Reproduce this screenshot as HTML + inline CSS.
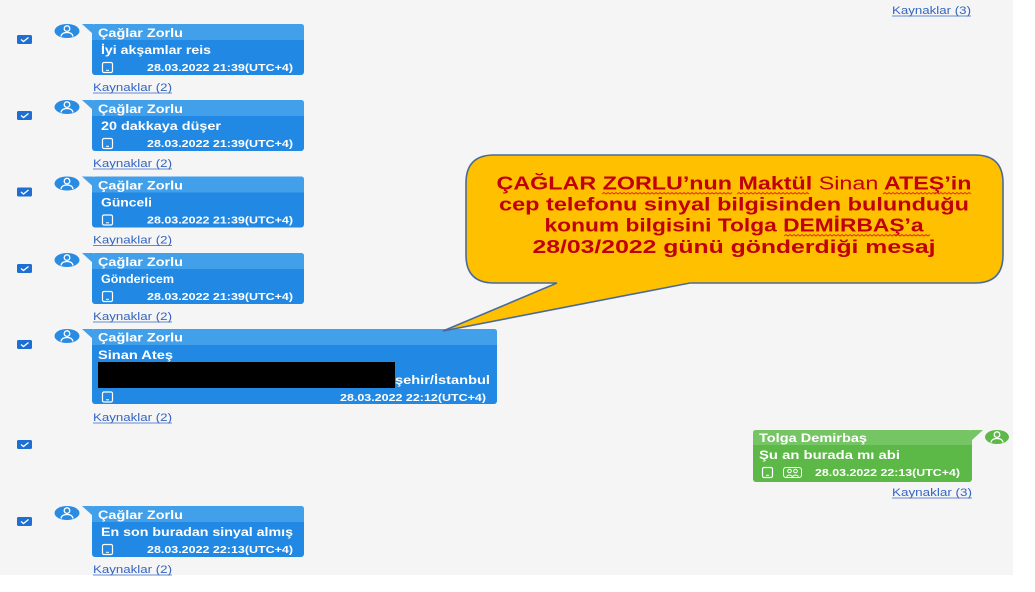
<!DOCTYPE html>
<html><head><meta charset="utf-8"><style>
html,body{margin:0;padding:0;background:#fff;}
svg{display:block;}
text{font-family:"Liberation Sans","DejaVu Sans",sans-serif;}
.w{fill:#fff;font-weight:bold;}
.h{font-size:11.5px;}
.b{font-size:12px;}
.t{font-size:10.5px;}
.k{fill:#3565c2;font-size:11px;}
.c{fill:#c0000a;font-size:18.5px;font-weight:bold;}
</style></head><body>
<svg width="1035" height="592" viewBox="0 0 1035 592" xmlns="http://www.w3.org/2000/svg">
<rect x="0" y="0" width="1035" height="592" fill="#ffffff"/>
<rect x="0" y="0" width="1013" height="575" fill="#f5f5f5"/>

<defs>
<g id="chk"><rect x="17" y="0" width="15" height="9" rx="1.5" fill="#1d6fd3"/><polyline points="21,4.5 23.5,6.5 28.5,2.5" fill="none" stroke="#fff" stroke-width="1.3"/></g>
<g id="avb"><ellipse cx="67" cy="7" rx="12.5" ry="7" fill="#2a8be2"/><circle cx="67" cy="4.6" r="2.8" fill="none" stroke="#fff" stroke-width="1.3"/><path d="M61,12.5 Q61.5,8.5 67,8.5 Q72.5,8.5 73,12.5" fill="none" stroke="#fff" stroke-width="1.3"/></g>
<g id="ph"><rect x="0.5" y="0.5" width="10" height="10" rx="1.5" fill="none" stroke="#fff" stroke-width="1.2"/><line x1="4" y1="8.3" x2="7" y2="8.3" stroke="#fff" stroke-width="1"/></g>
</defs>

<!-- top right Kaynaklar -->
<text x="892" y="14" class="k" textLength="79" lengthAdjust="spacingAndGlyphs">Kaynaklar (3)</text>
<line x1="892" y1="16" x2="971" y2="16" stroke="#3565c2" stroke-width="0.8"/>

<!-- Row 1 top 24 -->
<g transform="translate(0,24)">
<use href="#chk" y="11"/><use href="#avb"/>
<rect x="92" y="0" width="212" height="51" rx="3" fill="#2189e3"/>
<path d="M92,16 V3 Q92,0 95,0 H301 Q304,0 304,3 V16 Z" fill="#42a0ea"/>
<polygon points="82,0 93,0 93,10" fill="#42a0ea"/>
<text x="98" y="13" class="w h" textLength="85" lengthAdjust="spacingAndGlyphs">Çağlar Zorlu</text>
<text x="101" y="30" class="w b" textLength="110" lengthAdjust="spacingAndGlyphs">İyi akşamlar reis</text>
<use href="#ph" x="102" y="38"/>
<text x="147" y="47" class="w t" textLength="146" lengthAdjust="spacingAndGlyphs">28.03.2022 21:39(UTC+4)</text>
<text x="93" y="67" class="k" textLength="79" lengthAdjust="spacingAndGlyphs">Kaynaklar (2)</text>
<line x1="93" y1="69" x2="172" y2="69" stroke="#3565c2" stroke-width="0.8"/>
</g>

<!-- Row 2 top 100 -->
<g transform="translate(0,100)">
<use href="#chk" y="11"/><use href="#avb"/>
<rect x="92" y="0" width="212" height="51" rx="3" fill="#2189e3"/>
<path d="M92,16 V3 Q92,0 95,0 H301 Q304,0 304,3 V16 Z" fill="#42a0ea"/>
<polygon points="82,0 93,0 93,10" fill="#42a0ea"/>
<text x="98" y="13" class="w h" textLength="85" lengthAdjust="spacingAndGlyphs">Çağlar Zorlu</text>
<text x="101" y="30" class="w b" textLength="120" lengthAdjust="spacingAndGlyphs">20 dakkaya düşer</text>
<use href="#ph" x="102" y="38"/>
<text x="147" y="47" class="w t" textLength="146" lengthAdjust="spacingAndGlyphs">28.03.2022 21:39(UTC+4)</text>
<text x="93" y="67" class="k" textLength="79" lengthAdjust="spacingAndGlyphs">Kaynaklar (2)</text>
<line x1="93" y1="69" x2="172" y2="69" stroke="#3565c2" stroke-width="0.8"/>
</g>

<!-- Row 3 -->
<g transform="translate(0,176.5)">
<use href="#chk" y="11"/><use href="#avb"/>
<rect x="92" y="0" width="212" height="51" rx="3" fill="#2189e3"/>
<path d="M92,16 V3 Q92,0 95,0 H301 Q304,0 304,3 V16 Z" fill="#42a0ea"/>
<polygon points="82,0 93,0 93,10" fill="#42a0ea"/>
<text x="98" y="13" class="w h" textLength="85" lengthAdjust="spacingAndGlyphs">Çağlar Zorlu</text>
<text x="101" y="30" class="w b" textLength="51" lengthAdjust="spacingAndGlyphs">Günceli</text>
<use href="#ph" x="102" y="38"/>
<text x="147" y="47" class="w t" textLength="146" lengthAdjust="spacingAndGlyphs">28.03.2022 21:39(UTC+4)</text>
<text x="93" y="67" class="k" textLength="79" lengthAdjust="spacingAndGlyphs">Kaynaklar (2)</text>
<line x1="93" y1="69" x2="172" y2="69" stroke="#3565c2" stroke-width="0.8"/>
</g>

<!-- Row 4 -->
<g transform="translate(0,253)">
<use href="#chk" y="11"/><use href="#avb"/>
<rect x="92" y="0" width="212" height="51" rx="3" fill="#2189e3"/>
<path d="M92,16 V3 Q92,0 95,0 H301 Q304,0 304,3 V16 Z" fill="#42a0ea"/>
<polygon points="82,0 93,0 93,10" fill="#42a0ea"/>
<text x="98" y="13" class="w h" textLength="85" lengthAdjust="spacingAndGlyphs">Çağlar Zorlu</text>
<text x="101" y="30" class="w b" textLength="73" lengthAdjust="spacingAndGlyphs">Göndericem</text>
<use href="#ph" x="102" y="38"/>
<text x="147" y="47" class="w t" textLength="146" lengthAdjust="spacingAndGlyphs">28.03.2022 21:39(UTC+4)</text>
<text x="93" y="67" class="k" textLength="79" lengthAdjust="spacingAndGlyphs">Kaynaklar (2)</text>
<line x1="93" y1="69" x2="172" y2="69" stroke="#3565c2" stroke-width="0.8"/>
</g>

<!-- Row 5 -->
<g transform="translate(0,329)">
<use href="#chk" y="11"/><use href="#avb"/>
<rect x="92" y="0" width="405" height="75" rx="3" fill="#2189e3"/>
<path d="M92,16 V3 Q92,0 95,0 H494 Q497,0 497,3 V16 Z" fill="#42a0ea"/>
<polygon points="82,0 93,0 93,10" fill="#42a0ea"/>
<text x="98" y="12.5" class="w h" textLength="85" lengthAdjust="spacingAndGlyphs">Çağlar Zorlu</text>
<text x="98" y="30" class="w h" textLength="75" lengthAdjust="spacingAndGlyphs">Sinan Ateş</text>
<rect x="98" y="33" width="297" height="26" fill="#000"/>
<text x="395" y="55" class="w h" textLength="95" lengthAdjust="spacingAndGlyphs">şehir/İstanbul</text>
<use href="#ph" x="102" y="62.5"/>
<text x="340" y="72" class="w t" textLength="146" lengthAdjust="spacingAndGlyphs">28.03.2022 22:12(UTC+4)</text>
<text x="93" y="92" class="k" textLength="79" lengthAdjust="spacingAndGlyphs">Kaynaklar (2)</text>
<line x1="93" y1="94" x2="172" y2="94" stroke="#3565c2" stroke-width="0.8"/>
</g>

<!-- Tolga row -->
<use href="#chk" y="440"/>
<rect x="753" y="430" width="219" height="52" rx="3" fill="#5cb947"/>
<path d="M753,445 V433 Q753,430 756,430 H969 Q972,430 972,433 V445 Z" fill="#76c564"/>
<polygon points="971,430 983,430 971,441" fill="#76c564"/>
<ellipse cx="997" cy="437" rx="12" ry="7" fill="#5cb947"/>
<circle cx="997" cy="434.6" r="2.8" fill="none" stroke="#fff" stroke-width="1.3"/>
<path d="M991,442.5 Q991.5,438.5 997,438.5 Q1002.5,438.5 1003,442.5" fill="none" stroke="#fff" stroke-width="1.3"/>
<text x="759" y="442" class="w h" textLength="108" lengthAdjust="spacingAndGlyphs">Tolga Demirbaş</text>
<text x="759" y="459" class="w b" textLength="141" lengthAdjust="spacingAndGlyphs">Şu an burada mı abi</text>
<use href="#ph" x="762" y="467"/>
<g fill="none" stroke="#fff" stroke-width="1">
<rect x="783.5" y="467.5" width="18" height="10" rx="2.5"/>
<circle cx="789.5" cy="471" r="1.8"/><circle cx="795.5" cy="471" r="1.8"/>
<path d="M786.5,476.5 Q789.5,473.5 792.5,476.5 M792.5,476.5 Q795.5,473.5 798.5,476.5"/>
</g>
<text x="815" y="476" class="w t" textLength="145" lengthAdjust="spacingAndGlyphs">28.03.2022 22:13(UTC+4)</text>
<text x="892" y="496" class="k" textLength="80" lengthAdjust="spacingAndGlyphs">Kaynaklar (3)</text>
<line x1="892" y1="498" x2="972" y2="498" stroke="#3565c2" stroke-width="0.8"/>

<!-- Row 6 -->
<g transform="translate(0,506)">
<use href="#chk" y="11"/><use href="#avb"/>
<rect x="92" y="0" width="212" height="51" rx="3" fill="#2189e3"/>
<path d="M92,16 V3 Q92,0 95,0 H301 Q304,0 304,3 V16 Z" fill="#42a0ea"/>
<polygon points="82,0 93,0 93,10" fill="#42a0ea"/>
<text x="98" y="13" class="w h" textLength="85" lengthAdjust="spacingAndGlyphs">Çağlar Zorlu</text>
<text x="101" y="30" class="w b" textLength="192" lengthAdjust="spacingAndGlyphs">En son buradan sinyal almış</text>
<use href="#ph" x="102" y="38"/>
<text x="147" y="47" class="w t" textLength="146" lengthAdjust="spacingAndGlyphs">28.03.2022 22:13(UTC+4)</text>
<text x="93" y="67" class="k" textLength="79" lengthAdjust="spacingAndGlyphs">Kaynaklar (2)</text>
<line x1="93" y1="69" x2="172" y2="69" stroke="#3565c2" stroke-width="0.8"/>
</g>

<!-- Callout -->
<path d="M494,155 H975 Q1003,155 1003,183 V255 Q1003,283 975,283 H690 L443,331 L557,283 H494 Q466,283 466,255 V183 Q466,155 494,155 Z" fill="#ffc000" stroke="#4a6a9a" stroke-width="1.6" stroke-linejoin="miter"/>
<text x="734" y="189.5" text-anchor="middle" class="c" textLength="475" lengthAdjust="spacingAndGlyphs">ÇAĞLAR ZORLU’nun Maktül <tspan font-weight="normal">Sinan</tspan> ATEŞ’in</text>
<text x="734" y="210.5" text-anchor="middle" class="c" textLength="470" lengthAdjust="spacingAndGlyphs">cep telefonu sinyal bilgisinden bulunduğu</text>
<text x="734" y="231.5" text-anchor="middle" class="c" textLength="379" lengthAdjust="spacingAndGlyphs">konum bilgisini Tolga DEMİRBAŞ’a</text>
<text x="734" y="253" text-anchor="middle" class="c" textLength="403" lengthAdjust="spacingAndGlyphs">28/03/2022 günü gönderdiği mesaj</text>
<g fill="none" stroke="#e8202a" stroke-width="0.9">
<path d="M602,194 l2,-1.5 l2,1.5 l2,-1.5 l2,1.5 l2,-1.5 l2,1.5 l2,-1.5 l2,1.5 l2,-1.5 l2,1.5 l2,-1.5 l2,1.5 l2,-1.5 l2,1.5 l2,-1.5 l2,1.5 l2,-1.5 l2,1.5 l2,-1.5 l2,1.5 l2,-1.5 l2,1.5 l2,-1.5 l2,1.5 l2,-1.5 l2,1.5 l2,-1.5 l2,1.5 l2,-1.5 l2,1.5 l2,-1.5 l2,1.5 l2,-1.5 l2,1.5 l2,-1.5 l2,1.5 l2,-1.5 l2,1.5 l2,-1.5 l2,1.5 l2,-1.5 l2,1.5 l2,-1.5 l2,1.5 l2,-1.5 l2,1.5 l2,-1.5 l2,1.5 l2,-1.5 l2,1.5 l2,-1.5 l2,1.5 l2,-1.5 l2,1.5 l2,-1.5 l2,1.5 l2,-1.5 l2,1.5 l2,-1.5 l2,1.5 l2,-1.5 l2,1.5 l2,-1.5 l2,1.5 l2,-1.5"/>
<path d="M737,194 l2,-1.5 l2,1.5 l2,-1.5 l2,1.5 l2,-1.5 l2,1.5 l2,-1.5 l2,1.5 l2,-1.5 l2,1.5 l2,-1.5 l2,1.5 l2,-1.5 l2,1.5 l2,-1.5 l2,1.5 l2,-1.5 l2,1.5 l2,-1.5 l2,1.5 l2,-1.5 l2,1.5 l2,-1.5 l2,1.5 l2,-1.5 l2,1.5 l2,-1.5 l2,1.5 l2,-1.5 l2,1.5 l2,-1.5 l2,1.5 l2,-1.5 l2,1.5 l2,-1.5 l2,1.5"/>
<path d="M883,194 l2,-1.5 l2,1.5 l2,-1.5 l2,1.5 l2,-1.5 l2,1.5 l2,-1.5 l2,1.5 l2,-1.5 l2,1.5 l2,-1.5 l2,1.5 l2,-1.5 l2,1.5 l2,-1.5 l2,1.5 l2,-1.5 l2,1.5 l2,-1.5 l2,1.5 l2,-1.5 l2,1.5 l2,-1.5 l2,1.5 l2,-1.5 l2,1.5 l2,-1.5 l2,1.5 l2,-1.5 l2,1.5 l2,-1.5 l2,1.5 l2,-1.5 l2,1.5 l2,-1.5 l2,1.5 l2,-1.5 l2,1.5 l2,-1.5 l2,1.5 l2,-1.5 l2,1.5 l2,-1.5 l2,1.5"/>
<path d="M784,236 l2,-1.5 l2,1.5 l2,-1.5 l2,1.5 l2,-1.5 l2,1.5 l2,-1.5 l2,1.5 l2,-1.5 l2,1.5 l2,-1.5 l2,1.5 l2,-1.5 l2,1.5 l2,-1.5 l2,1.5 l2,-1.5 l2,1.5 l2,-1.5 l2,1.5 l2,-1.5 l2,1.5 l2,-1.5 l2,1.5 l2,-1.5 l2,1.5 l2,-1.5 l2,1.5 l2,-1.5 l2,1.5 l2,-1.5 l2,1.5 l2,-1.5 l2,1.5 l2,-1.5 l2,1.5 l2,-1.5 l2,1.5 l2,-1.5 l2,1.5 l2,-1.5 l2,1.5 l2,-1.5 l2,1.5 l2,-1.5 l2,1.5 l2,-1.5 l2,1.5 l2,-1.5 l2,1.5 l2,-1.5 l2,1.5 l2,-1.5 l2,1.5 l2,-1.5 l2,1.5 l2,-1.5 l2,1.5 l2,-1.5 l2,1.5 l2,-1.5 l2,1.5 l2,-1.5 l2,1.5 l2,-1.5 l2,1.5 l2,-1.5 l2,1.5 l2,-1.5 l2,1.5 l2,-1.5 l2,1.5 l2,-1.5"/>
</g>
</svg>
</body></html>
